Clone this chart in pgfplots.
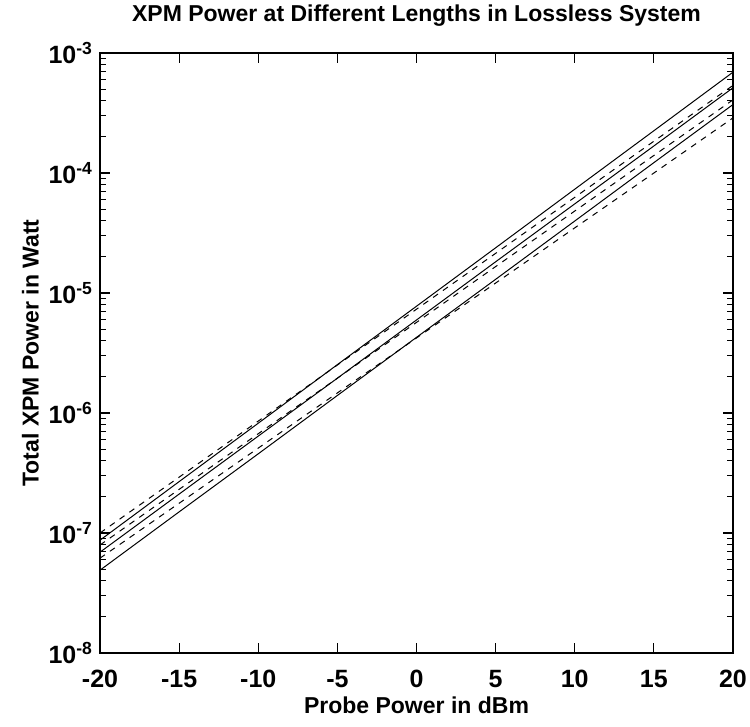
\documentclass[border=0pt]{standalone}
\usepackage{pgfplots}
\pgfplotsset{compat=1.18}
\usepackage{fontspec}
\setmainfont{Liberation Sans}
\begin{document}
\begin{tikzpicture}
\begin{axis}[
  name=ax,
  scale only axis,
  width=316.5pt, height=300pt,
  xmin=-20, xmax=20,
  ymode=log, ymin=1e-8, ymax=1e-3,
  xtick={-20,-15,...,20},
  xticklabels={-20,-15,-10,-5,0,5,10,15,20},
  ytick={1e-8,1e-7,1e-6,1e-5,1e-4,1e-3},
  yticklabels={\textbf{10}\textsuperscript{\textbf{-8}},\textbf{10}\textsuperscript{\textbf{-7}},\textbf{10}\textsuperscript{\textbf{-6}},\textbf{10}\textsuperscript{\textbf{-5}},\textbf{10}\textsuperscript{\textbf{-4}},\textbf{10}\textsuperscript{\textbf{-3}}},
  tick align=inside,
  tick pos=both,
  major tick length=5pt,
  minor tick length=3pt,
  axis line style={line width=0.8pt},
  tick style={line width=0.6pt, black},
  ticklabel style={font=\fontsize{12.5}{13}\selectfont\bfseries},
  xticklabel style={yshift=-5pt},
  title={\fontsize{11.5}{13}\selectfont\bfseries XPM Power at Different Lengths in Lossless System},
  title style={at={(axis description cs:0.5,1.042)}, anchor=center},
  xlabel={\fontsize{11.5}{13}\selectfont\bfseries Probe Power in dBm},
  ylabel={\fontsize{11.5}{13}\selectfont\bfseries Total XPM Power in Watt},
  ylabel style={at={(axis description cs:-0.11,0.5)}, anchor=center},
  xlabel style={at={(axis description cs:0.5,-0.087)}, anchor=center},
]
% solid series
\addplot[black, line width=0.5pt] coordinates {(-20,8.71e-8) (-15,2.68e-7) (-10,8.22e-7) (-5,2.53e-6) (0,7.76e-6) (5,2.38e-5) (10,7.33e-5) (15,2.25e-4) (20,6.92e-4)};
\addplot[black, line width=0.5pt] coordinates {(-20,6.92e-8) (-15,2.11e-7) (-10,6.42e-7) (-5,1.95e-6) (0,5.96e-6) (5,1.82e-5) (10,5.53e-5) (15,1.68e-4) (20,5.13e-4)};
\addplot[black, line width=0.5pt] coordinates {(-20,4.90e-8) (-15,1.50e-7) (-10,4.57e-7) (-5,1.40e-6) (0,4.27e-6) (5,1.30e-5) (10,3.98e-5) (15,1.22e-4) (20,3.72e-4)};
% dashed series
\addplot[black, line width=0.5pt, dash pattern=on 3pt off 3pt] coordinates {(-20,1.00e-7) (-15,2.92e-7) (-10,8.56e-7) (-5,2.51e-6) (0,7.33e-6) (5,2.14e-5) (10,6.27e-5) (15,1.84e-4) (20,5.37e-4)};
\addplot[black, line width=0.5pt, dash pattern=on 3pt off 3pt] coordinates {(-20,7.94e-8) (-15,2.31e-7) (-10,6.72e-7) (-5,1.95e-6) (0,5.69e-6) (5,1.66e-5) (10,4.82e-5) (15,1.40e-4) (20,4.07e-4)};
\addplot[black, line width=0.5pt, dash pattern=on 3pt off 3pt] coordinates {(-20,6.17e-8) (-15,1.77e-7) (-10,5.10e-7) (-5,1.47e-6) (0,4.22e-6) (5,1.21e-5) (10,3.49e-5) (15,1.00e-4) (20,2.88e-4)};
\end{axis}
\pgfresetboundingbox
\path ([xshift=-50pt,yshift=-37pt]ax.south west) rectangle ([xshift=8.5pt,yshift=26.5pt]ax.north east);
\end{tikzpicture}
\end{document}
